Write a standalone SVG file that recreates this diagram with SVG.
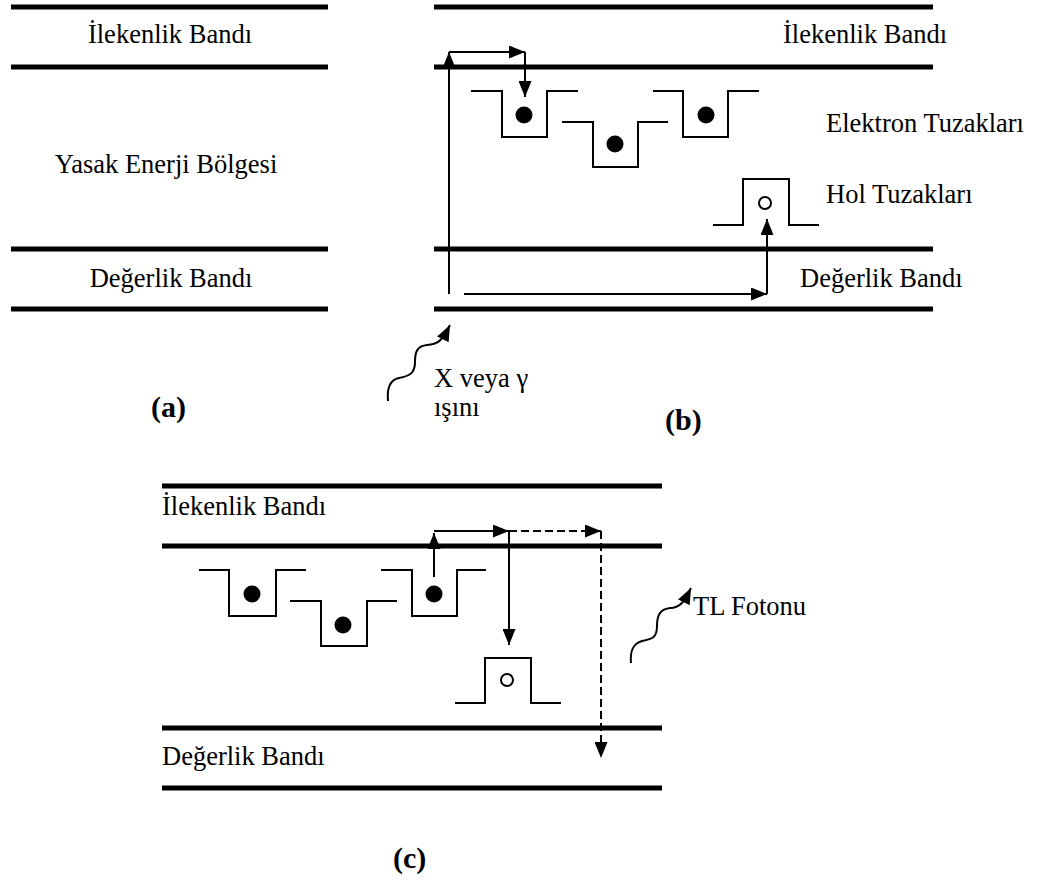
<svg xmlns="http://www.w3.org/2000/svg" width="1041" height="884" viewBox="0 0 1041 884">
<style>
.band{stroke:#000;stroke-width:5;fill:none}
.trap{stroke:#000;stroke-width:2;fill:none}
.dot{fill:#000}
.hole{fill:#fff;stroke:#000;stroke-width:2}
.ln{stroke:#000;stroke-width:2;fill:none}
.dash{stroke:#000;stroke-width:2;fill:none;stroke-dasharray:8,4}
.t{font-family:"Liberation Serif","Times New Roman",serif;font-size:26.5px;fill:#000}
.lbl{font-family:"Liberation Serif","Times New Roman",serif;font-size:30px;font-weight:bold;fill:#000}
</style>
<defs>
<marker id="ah" markerUnits="userSpaceOnUse" markerWidth="16" markerHeight="13" viewBox="0 0 16 13" refX="16" refY="6.5" orient="auto">
<path d="M0,0 L16,6.5 L0,13 z" fill="#000"/>
</marker>
</defs>
<rect width="1041" height="884" fill="#fff"/>

<g id="panel-a">
<g id="a-conduction"><line class="band" x1="11" y1="7" x2="328" y2="7"/><line class="band" x1="11" y1="67" x2="328" y2="67"/>
<text class="t" x="170" y="43" text-anchor="middle">İlekenlik Bandı</text></g>
<g id="a-gap"><text class="t" x="166" y="173" text-anchor="middle">Yasak Enerji Bölgesi</text></g>
<g id="a-valence"><line class="band" x1="11" y1="249" x2="328" y2="249"/><line class="band" x1="11" y1="309" x2="328" y2="309"/>
<text class="t" x="171" y="287" text-anchor="middle">Değerlik Bandı</text></g>
<text class="lbl" x="151" y="417">(a)</text>
</g>

<g id="panel-b">
<g id="b-conduction"><line class="band" x1="434" y1="7" x2="933" y2="7"/><line class="band" x1="434" y1="67" x2="933" y2="67"/>
<text class="t" x="783" y="43">İlekenlik Bandı</text></g>
<g id="b-valence"><line class="band" x1="434" y1="249" x2="933" y2="249"/><line class="band" x1="434" y1="309" x2="933" y2="309"/>
<text class="t" x="800" y="287">Değerlik Bandı</text></g>
<g id="b-etrap1"><path class="trap" d="M471,91 H502 V137 H547 V91 H578"/><circle class="dot" cx="524" cy="115" r="8.5"/></g>
<g id="b-etrap2"><path class="trap" d="M562,122 H593 V167 H638 V122 H668"/><circle class="dot" cx="615" cy="144" r="8.5"/></g>
<g id="b-etrap3"><path class="trap" d="M653,91 H683 V137 H728 V91 H759"/><circle class="dot" cx="706" cy="115" r="8.5"/></g>
<g id="b-htrap"><path class="trap" d="M713,225 H743 V179 H789 V225 H819"/><circle class="hole" cx="765" cy="203" r="6"/></g>
<text class="t" x="826" y="132">Elektron Tuzakları</text>
<text class="t" x="826" y="203">Hol Tuzakları</text>
<text class="t" x="434" y="387">X veya γ</text>
<text class="t" x="434" y="416">ışını</text>
<text class="lbl" x="665" y="430">(b)</text>
</g>

<g id="panel-c">
<g id="c-conduction"><line class="band" x1="162" y1="486" x2="662" y2="486"/><line class="band" x1="162" y1="546" x2="662" y2="546"/>
<text class="t" x="162" y="515">İlekenlik Bandı</text></g>
<g id="c-valence"><line class="band" x1="162" y1="728" x2="662" y2="728"/><line class="band" x1="162" y1="788" x2="662" y2="788"/>
<text class="t" x="162" y="765">Değerlik Bandı</text></g>
<g id="c-etrap1"><path class="trap" d="M199,570 H229 V616 H276 V570 H306"/><circle class="dot" cx="252" cy="594" r="8.5"/></g>
<g id="c-etrap2"><path class="trap" d="M290,601 H321 V646 H367 V601 H397"/><circle class="dot" cx="343" cy="625" r="8.5"/></g>
<g id="c-etrap3"><path class="trap" d="M381,570 H412 V616 H457 V570 H486"/><circle class="dot" cx="434" cy="594" r="8.5"/></g>
<g id="c-htrap"><path class="trap" d="M455,703 H485 V658 H531 V703 H561"/><circle class="hole" cx="507" cy="680" r="6"/></g>
<text class="t" x="693" y="615">TL Fotonu</text>
<text class="lbl" x="393" y="868">(c)</text>
</g>

<g id="connectors">
<line class="ln" x1="449" y1="294" x2="449" y2="52" marker-end="url(#ah)"/>
<line class="ln" x1="449" y1="52" x2="525" y2="52" marker-end="url(#ah)"/>
<line class="ln" x1="525" y1="52" x2="525" y2="97" marker-end="url(#ah)"/>
<line class="ln" x1="464" y1="294" x2="767" y2="294" marker-end="url(#ah)"/>
<line class="ln" x1="767" y1="294" x2="767" y2="219" marker-end="url(#ah)"/>
<path class="ln" d="M388,401 C387,390 389,380 399,378 C410,376 415,373 415,362 C415,352 417,346 427,345 C437,344 441,343 450,325" marker-end="url(#ah)"/>
<line class="ln" x1="434" y1="577" x2="434" y2="533" marker-end="url(#ah)"/>
<line class="ln" x1="434" y1="531" x2="509" y2="531" marker-end="url(#ah)"/>
<line class="dash" x1="509" y1="531" x2="601" y2="531" marker-end="url(#ah)"/>
<line class="dash" x1="601" y1="531" x2="601" y2="758" marker-end="url(#ah)"/>
<line class="ln" x1="509" y1="531" x2="509" y2="645" marker-end="url(#ah)"/>
<path class="ln" d="M631,663 C630,652 632,644 642,641 C652,639 657,638 657,626 C657,614 661,609 670,608 C680,608 684,602 691,588" marker-end="url(#ah)"/>
</g>
</svg>
